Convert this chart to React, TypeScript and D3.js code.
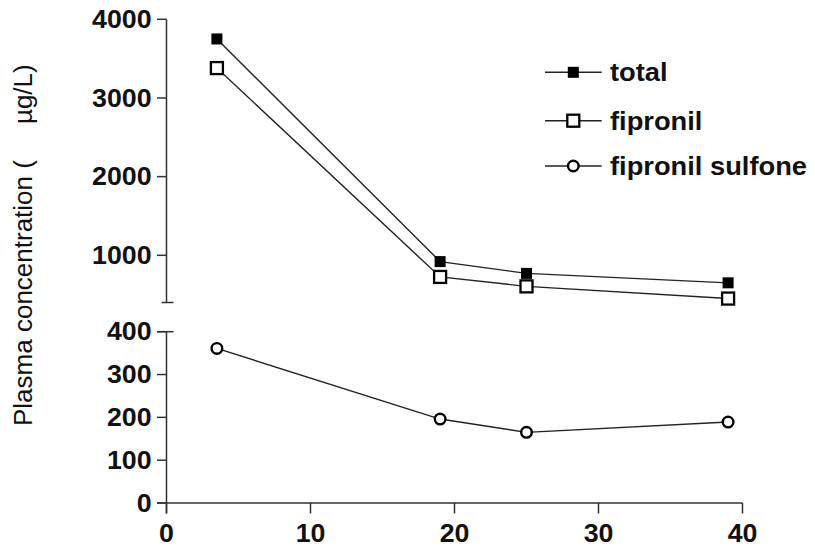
import React from 'react';
import { scaleLinear, line } from 'd3';

const days = [3.5, 19, 25, 39];
const total = [3750, 920, 770, 650];
const fipronil = [3380, 725, 605, 450];
const sulfone = [361, 196, 165, 189];

const xTicks = [0, 10, 20, 30, 40];
const upperTicks = [1000, 2000, 3000, 4000];
const lowerTicks = [0, 100, 200, 300, 400];
const legendNames = ['total', 'fipronil', 'fipronil sulfone'];

const W = 815;
const H = 552;

const x = scaleLinear().domain([0, 40]).range([166.5, 742.5]);
const yUp = scaleLinear().domain([400, 4000]).range([302.5, 19.3]);
const yLow = scaleLinear().domain([0, 400]).range([503, 331.7]);

const AX = '#333';
const LN = '#222';
const boldFont = { fontFamily: 'Liberation Sans, Arial, sans-serif', fontWeight: 700 };

// marker for each series, drawn centered at (cx, cy)
const Marker: React.FC<{ kind: number; cx: number; cy: number }> = ({ kind, cx, cy }) => {
  if (kind === 0) return <rect x={cx - 5.5} y={cy - 5.5} width={11} height={11} fill="#000" />;
  if (kind === 1)
    return <rect x={cx - 6} y={cy - 6} width={12} height={12} fill="#fff" stroke="#000" strokeWidth={2.3} />;
  return <circle cx={cx} cy={cy} r={5.3} fill="#fff" stroke="#000" strokeWidth={2.4} />;
};

const Label: React.FC<{ tx: number; ty: number; anchor: string; size: number; sx: number; children: React.ReactNode }> = ({
  tx, ty, anchor, size, sx, children,
}) => (
  <g transform={`translate(${tx},${ty}) scale(${sx},1)`}>
    <text textAnchor={anchor as any} fontSize={size} style={boldFont} fill="#111">
      {children}
    </text>
  </g>
);

export default function App() {
  const upLine = line<number>()
    .x((_, i) => x(days[i]))
    .y(v => yUp(v));
  const lowLine = line<number>()
    .x((_, i) => x(days[i]))
    .y(v => yLow(v));

  const series = [
    { vals: total, y: yUp, path: upLine(total) },
    { vals: fipronil, y: yUp, path: upLine(fipronil) },
    { vals: sulfone, y: yLow, path: lowLine(sulfone) },
  ];

  const x0 = x(0);

  return (
    <svg width={W} height={H} style={{ position: 'absolute', left: 0, top: 0, background: '#fff' }}>
      {/* upper axis segment */}
      <line x1={x0} x2={x0} y1={yUp(4000)} y2={yUp(400)} stroke={AX} strokeWidth={1.5} />
      <line x1={x0 - 5} x2={x0 + 7} y1={yUp(400)} y2={yUp(400)} stroke={AX} strokeWidth={1.5} />
      {upperTicks.map(t => (
        <g key={t}>
          <line x1={x0 - 9.5} x2={x0} y1={yUp(t)} y2={yUp(t)} stroke={AX} strokeWidth={1.5} />
          <Label tx={x0 - 15} ty={yUp(t) + 8.6} anchor="end" size={25} sx={1.07}>
            {t}
          </Label>
        </g>
      ))}

      {/* lower axis segment */}
      <line x1={x0} x2={x0} y1={yLow(400)} y2={yLow(0) + 10.5} stroke={AX} strokeWidth={1.5} />
      <line x1={x0 - 9.5} x2={x0 + 7} y1={yLow(400)} y2={yLow(400)} stroke={AX} strokeWidth={1.5} />
      {lowerTicks.map(t => (
        <g key={t}>
          <line x1={x0 - 9.5} x2={x0} y1={yLow(t)} y2={yLow(t)} stroke={AX} strokeWidth={1.5} />
          <Label tx={x0 - 15} ty={yLow(t) + 8.6} anchor="end" size={25} sx={1.07}>
            {t}
          </Label>
        </g>
      ))}

      {/* x axis */}
      <line x1={x0 - 9.5} x2={x(40)} y1={yLow(0)} y2={yLow(0)} stroke={AX} strokeWidth={1.5} />
      {xTicks.map(t => (
        <g key={t}>
          <line x1={x(t)} x2={x(t)} y1={yLow(0)} y2={yLow(0) + 10.5} stroke={AX} strokeWidth={1.5} />
          <Label tx={x(t)} ty={542} anchor="middle" size={25} sx={1.07}>
            {t}
          </Label>
        </g>
      ))}

      {/* y axis title */}
      <text
        transform="translate(32,426) rotate(-90)"
        fontSize={26}
        fontFamily="Liberation Sans, Arial, sans-serif"
        fill="#111"
      >
        Plasma concentration (
        <tspan dx={36}>µg/L)</tspan>
      </text>

      {/* series */}
      {series.map((s, k) => (
        <g key={k}>
          <path d={s.path ?? ''} fill="none" stroke={LN} strokeWidth={1.4} />
          {s.vals.map((v, i) => (
            <Marker key={i} kind={k} cx={x(days[i])} cy={s.y(v)} />
          ))}
        </g>
      ))}

      {/* legend */}
      {legendNames.map((name, k) => {
        const ly = [72.3, 120.7, 166][k];
        return (
          <g key={name}>
            <line x1={545} x2={601.7} y1={ly} y2={ly} stroke={LN} strokeWidth={1.4} />
            <Marker kind={k} cx={573.3} cy={ly} />
            <Label tx={610} ty={ly + 9} anchor="start" size={26} sx={1.05}>
              {name}
            </Label>
          </g>
        );
      })}
    </svg>
  );
}
